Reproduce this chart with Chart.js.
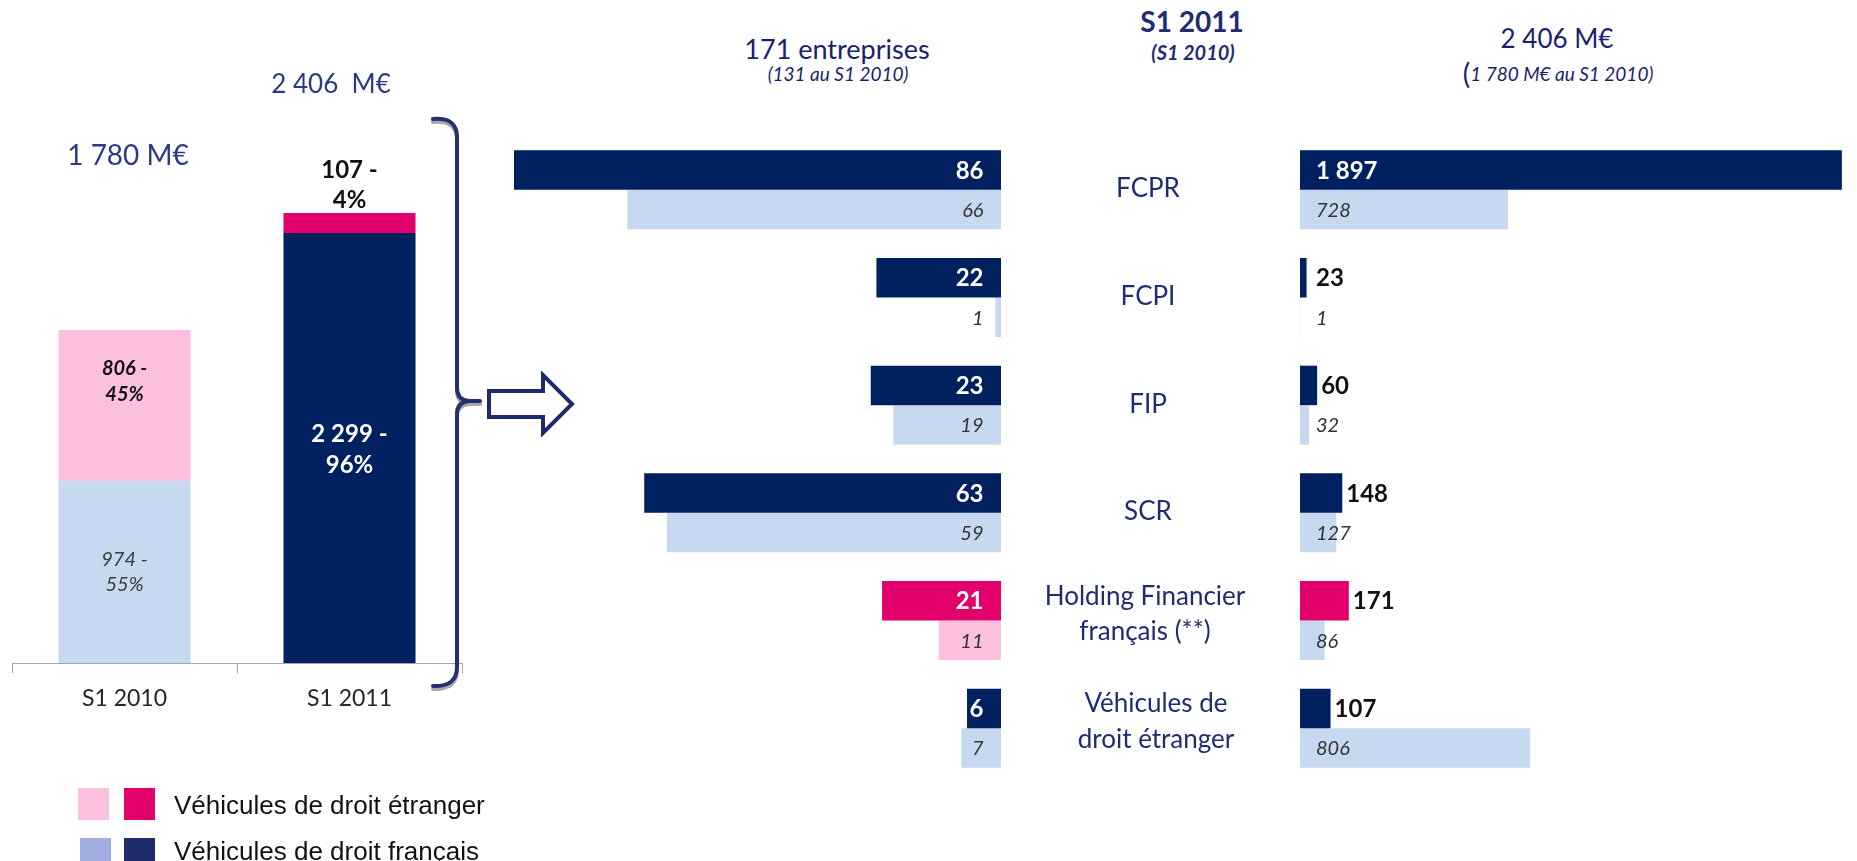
<!DOCTYPE html>
<html><head><meta charset="utf-8">
<script src="https://cdn.jsdelivr.net/npm/chart.js@4/dist/chart.umd.min.js"></script>
<style>
html,body{margin:0;padding:0;background:#fff;}
body{width:1857px;height:861px;overflow:hidden;position:relative;font-family:Lato,sans-serif;}
canvas{position:absolute;}
.t{position:absolute;white-space:pre;transform:translate(-50%,-50%);line-height:1;}
.sq{position:absolute;}
.lg{position:absolute;white-space:nowrap;font-family:"Liberation Sans",Arial,sans-serif;font-size:26px;color:#111;transform:translateY(-50%);line-height:1;}
</style></head><body>

<canvas id="cLeft" width="480" height="720" style="left:0;top:0"></canvas>
<canvas id="cMid" width="521" height="646" style="left:480px;top:136px"></canvas>
<canvas id="cRight" width="847" height="646" style="left:1010px;top:136px"></canvas>

<div class="t" style="left:128px;top:154px;font-size:28px;color:#2B3A86">1 780 M€</div>
<div class="t" style="left:331px;top:83px;font-size:26px;color:#2B3A86">2 406  M€</div>

<div class="t" style="left:837px;top:48px;font-size:27px;color:#1A1F6E">171 entreprises</div>
<div class="t" style="left:838px;top:73px;font-size:19px;font-style:italic;color:#1A1F6E">(131 au S1 2010)</div>
<div class="t" style="left:1192px;top:21px;font-size:28px;font-weight:bold;color:#1F2D70">S1 2011</div>
<div class="t" style="left:1193px;top:52px;font-size:20px;font-style:italic;font-weight:bold;color:#1F2D70">(S1 2010)</div>
<div class="t" style="left:1557px;top:38px;font-size:26px;color:#1A1F6E">2 406 M€</div>
<div class="t" style="left:1558px;top:73px;font-size:19px;font-style:italic;color:#1A1F6E"><span style="font-style:normal;font-size:28px;vertical-align:-3px">(</span>1 780 M€ au S1 2010)</div>

<svg width="1857" height="861" style="position:absolute;left:0;top:0;pointer-events:none">
  <g fill="none" stroke="#A8A8A8" stroke-width="4" stroke-linecap="round" transform="translate(0,3)">
    <path d="M433 119 Q457 117 457 137 L457 388 Q457 400 469 401 L480 401 M469 401 Q457 402 457 414 L457 667 Q457 687 433 686"/>
  </g>
  <g fill="none" stroke="#253070" stroke-width="4" stroke-linecap="round">
    <path d="M433 119 Q457 117 457 137 L457 388 Q457 400 469 401 L480 401 M469 401 Q457 402 457 414 L457 667 Q457 687 433 686"/>
  </g>
  <polygon points="489,391 543,391 543,375 572,404 543,433 543,417 489,417" fill="#fff" stroke="#1F2A6E" stroke-width="4" stroke-linejoin="miter"/>
</svg>

<div class="sq" style="left:78px;top:788px;width:31px;height:32px;background:#FDBFDF"></div>
<div class="sq" style="left:124px;top:788px;width:31px;height:32px;background:#E2006B"></div>
<div class="lg" style="left:174px;top:805px">Véhicules de droit étranger</div>
<div class="sq" style="left:80px;top:838px;width:31px;height:31px;background:#A3AEE0"></div>
<div class="sq" style="left:124px;top:838px;width:31px;height:31px;background:#202C6C"></div>
<div class="lg" style="left:174px;top:851px">Véhicules de droit français</div>

<script>
// ---------- DATA ----------
const periods = ['S1 2010', 'S1 2011'];
const francais = [974, 2299];
const etranger = [806, 107];
const pctFrancais = [55, 96];
const pctEtranger = [45, 4];

const categories = [['FCPR'], ['FCPI'], ['FIP'], ['SCR'], ['Holding Financier', 'français (**)'], ['Véhicules de', 'droit étranger']];
const entreprises2011 = [86, 22, 23, 63, 21, 6];
const entreprises2010 = [66, 1, 19, 59, 11, 7];
const montants2011 = [1897, 23, 60, 148, 171, 107];
const montants2010 = [728, 1, 32, 127, 86, 806];

// ---------- STYLE ----------
const NAVY = '#00205F', MAGENTA = '#E2006A', LIGHT = '#C6D9F1', PINK = '#FCBFDF';
const fmt = v => String(v).replace(/\B(?=(\d{3})+(?!\d))/g, ' ');
Chart.defaults.font.family = 'Lato';

// ---------- LEFT STACKED CHART ----------
const leftLabels = {
  id: 'leftLabels',
  afterDatasetsDraw(chart) {
    const ctx = chart.ctx;
    const styles = [
      [{font: 'italic 20px Lato', color: '#3A3A3A', dy: 0, gap: 25},
       {font: 'bold 24px Lato', color: '#FFFFFF', dy: 1.5, gap: 31}],
      [{font: 'italic bold 20px Lato', color: '#111111', dy: -24, gap: 26},
       {font: 'bold 24px Lato', color: '#111111', above: true, gap: 30}]
    ];
    const pcts = [pctFrancais, pctEtranger];
    chart.data.datasets.forEach((ds, di) => {
      chart.getDatasetMeta(di).data.forEach((el, i) => {
        const st = styles[di][i];
        const lines = [fmt(ds.data[i]) + ' -', pcts[di][i] + '%'];
        ctx.save();
        ctx.font = st.font; ctx.fillStyle = st.color;
        ctx.textAlign = 'center'; ctx.textBaseline = 'middle';
        let y1;
        if (st.above) { y1 = el.y - 13 - st.gap; }
        else { y1 = (el.y + el.base) / 2 + st.dy - st.gap / 2; }
        ctx.fillText(lines[0], el.x, y1);
        ctx.fillText(lines[1], el.x, y1 + st.gap);
        ctx.restore();
      });
    });
  }
};

new Chart(document.getElementById('cLeft'), {
  type: 'bar',
  data: {
    labels: periods,
    datasets: [
      {label: 'Véhicules de droit français', data: francais, backgroundColor: [LIGHT, NAVY]},
      {label: 'Véhicules de droit étranger', data: etranger, backgroundColor: [PINK, MAGENTA]}
    ]
  },
  options: {
    responsive: false, animation: false, devicePixelRatio: 1,
    layout: {padding: {left: 12, right: 18, top: 0, bottom: 0}},
    datasets: {bar: {barPercentage: 0.587, categoryPercentage: 1.0}},
    plugins: {legend: {display: false}, tooltip: {enabled: false}},
    scales: {
      x: {
        stacked: true,
        grid: {display: true, drawOnChartArea: false, drawTicks: true, tickLength: 10, color: '#A6A6A6', offset: true},
        border: {display: true, color: '#A6A6A6', width: 1},
        ticks: {font: {family: 'Lato', size: 23}, color: '#262626', padding: 12},
        afterFit: s => { s.height = 57; }
      },
      y: {stacked: true, display: false, min: 0, max: 3545}
    }
  },
  plugins: [leftLabels]
});

// ---------- MIDDLE CHART (nombre d'entreprises) ----------
const midLabels = {
  id: 'midLabels',
  afterDatasetsDraw(chart) {
    const ctx = chart.ctx;
    chart.data.datasets.forEach((ds, di) => {
      chart.getDatasetMeta(di).data.forEach((el, i) => {
        ctx.save();
        ctx.font = di === 0 ? 'bold 24px Lato' : 'italic 20px Lato';
        ctx.fillStyle = di === 0 ? '#FFFFFF' : '#333333';
        ctx.textAlign = 'right'; ctx.textBaseline = 'middle';
        ctx.fillText(fmt(ds.data[i]), el.base - 17.5, el.y + 1);
        ctx.restore();
      });
    });
  }
};

new Chart(document.getElementById('cMid'), {
  type: 'bar',
  data: {
    labels: categories,
    datasets: [
      {label: 'S1 2011', data: entreprises2011, backgroundColor: [NAVY, NAVY, NAVY, NAVY, MAGENTA, NAVY]},
      {label: 'S1 2010', data: entreprises2010, backgroundColor: [LIGHT, LIGHT, LIGHT, LIGHT, PINK, LIGHT]}
    ]
  },
  options: {
    indexAxis: 'y', responsive: false, animation: false, devicePixelRatio: 1,
    layout: {padding: 0},
    datasets: {bar: {barPercentage: 1.0, categoryPercentage: 0.734}},
    plugins: {legend: {display: false}, tooltip: {enabled: false}},
    scales: {
      x: {display: false, reverse: true, min: 0, max: 92},
      y: {display: false}
    }
  },
  plugins: [midLabels]
});

// ---------- RIGHT CHART (montants) ----------
const rightLabels = {
  id: 'rightLabels',
  afterDatasetsDraw(chart) {
    const ctx = chart.ctx;
    chart.data.datasets.forEach((ds, di) => {
      chart.getDatasetMeta(di).data.forEach((el, i) => {
        ctx.save();
        ctx.textAlign = 'left'; ctx.textBaseline = 'middle';
        let x = el.base + 16;
        if (di === 0) {
          ctx.font = 'bold 24px Lato';
          if (el.x - el.base > 100) { ctx.fillStyle = '#FFFFFF'; }
          else { ctx.fillStyle = '#111111'; x = Math.max(el.x + 4, el.base + 16); }
        } else {
          ctx.font = 'italic 20px Lato'; ctx.fillStyle = '#333333';
        }
        ctx.fillText(fmt(ds.data[i]), x, el.y + 1);
        ctx.restore();
      });
    });
  }
};
const catLabels = {
  id: 'catLabels',
  afterDraw(chart) {
    const ctx = chart.ctx, ys = chart.scales.y;
    const dx = [0, 0, 0, 0, -3, 8];
    ctx.save();
    ctx.font = '26px Lato'; ctx.fillStyle = '#1F2D70';
    ctx.textAlign = 'center'; ctx.textBaseline = 'middle';
    chart.data.labels.forEach((lab, i) => {
      const y = ys.getPixelForValue(i);
      const lh = 35.5;
      const y0 = lab.length > 1 ? y - 6.5 - lh / 2 : y - 1;
      lab.forEach((t, k) => ctx.fillText(t, chart.chartArea.left - 152 + dx[i], y0 + k * lh));
    });
    ctx.restore();
  }
};

new Chart(document.getElementById('cRight'), {
  type: 'bar',
  data: {
    labels: categories,
    datasets: [
      {label: 'S1 2011', data: montants2011, backgroundColor: [NAVY, NAVY, NAVY, NAVY, MAGENTA, NAVY]},
      {label: 'S1 2010', data: montants2010, backgroundColor: LIGHT}
    ]
  },
  options: {
    indexAxis: 'y', responsive: false, animation: false, devicePixelRatio: 1,
    layout: {padding: {left: 290, right: 0, top: 0, bottom: 0}},
    datasets: {bar: {barPercentage: 1.0, categoryPercentage: 0.734}},
    plugins: {legend: {display: false}, tooltip: {enabled: false}},
    scales: {
      x: {display: false, min: 0, max: 1950},
      y: {display: false}
    }
  },
  plugins: [rightLabels, catLabels]
});
</script>
</body></html>
